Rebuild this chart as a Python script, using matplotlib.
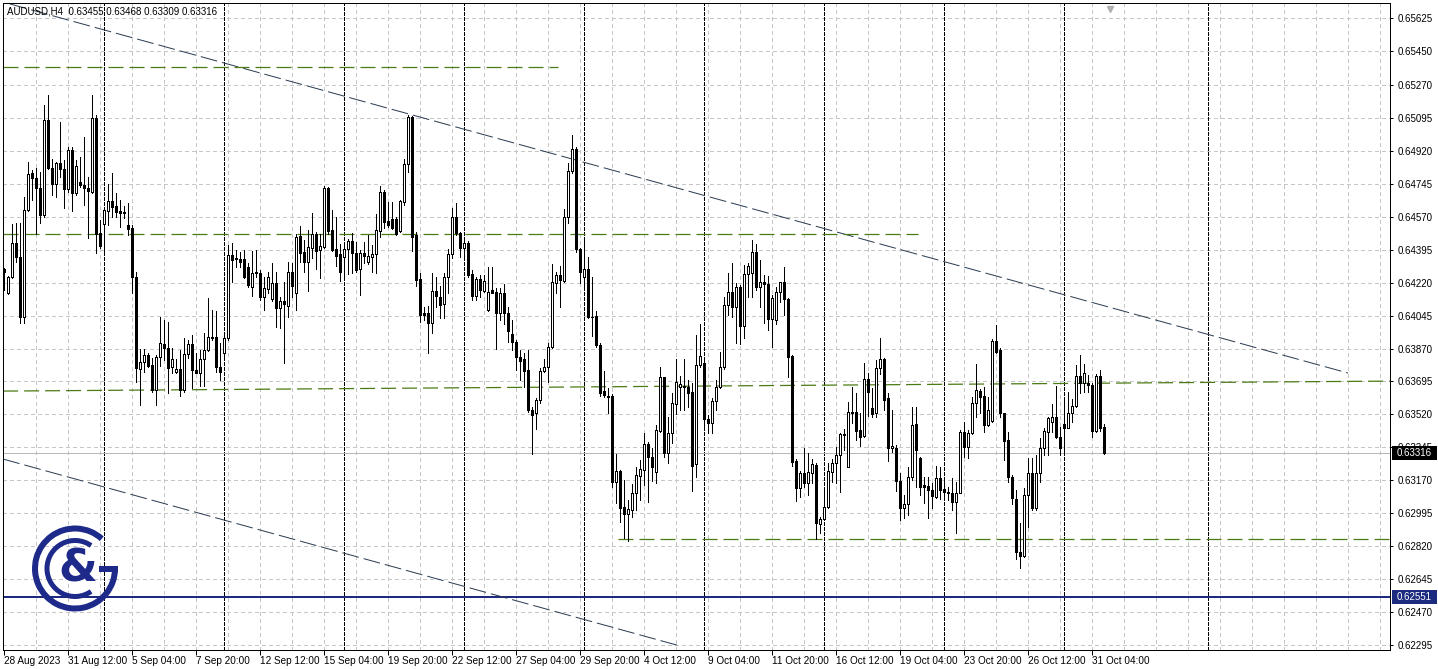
import numpy as np
import matplotlib
matplotlib.use("Agg")
import matplotlib.pyplot as plt
import matplotlib.transforms as mtransforms
from matplotlib.patches import Arc, Rectangle

plt.rcParams['lines.scale_dashes'] = False
plt.rcParams['font.family'] = ['Liberation Sans', 'DejaVu Sans']

title_text = "AUDUSD,H4  0.63455 0.63468 0.63309 0.63316"

# ---- H4 candles, prices in points (1e-5) ----
open_pts = [
64291,64163,64252,64429,64354,64036,64606,64800,64774,64721,
64579,65084,64827,64742,64853,64822,64715,64924,64698,64754,
64740,64721,64703,65092,64482,64530,64602,64655,64627,64600,
64597,64526,64508,64248,63761,63800,63836,63783,63650,63827,
63892,63871,63770,63747,63760,63650,63841,63892,63756,63742,
63813,63862,63933,63930,63774,63848,63924,64367,64349,64346,
64346,64301,64199,64276,64269,64145,64184,64131,64216,64087,
64122,64098,64275,64163,64468,64384,64331,64402,64478,64393,
64411,64721,64499,64397,64372,64354,64397,64439,64376,64291,
64376,64330,64358,64372,64496,64700,64547,64556,64556,64496,
64650,64848,65101,64473,64238,64057,64057,64007,64177,64145,
64105,64248,64372,64567,64482,64402,64429,64266,64149,64238,
64177,64075,64181,64169,64061,64163,64057,63947,63907,63823,
63813,63756,63544,63526,63597,63753,63770,63880,64220,64261,
64230,64567,64813,64928,64397,64248,64291,64039,64043,63889,
63646,63618,63618,63163,63222,63027,62990,63013,63101,63193,
63225,63363,63296,63213,63434,63717,63317,63420,63576,63668,
63673,63668,63641,63255,63783,63795,63494,63476,63591,63668,
63770,64101,64172,64089,64195,63990,64266,64273,64381,64195,
64222,64213,64027,64022,64172,64222,64131,63830,63275,63131,
63207,63154,63207,63252,62938,62963,63030,63216,63260,63305,
63414,63243,63531,63531,63437,63406,63707,63553,63526,63765,
63813,63606,63340,63340,63168,63022,63043,63190,63469,63287,
63145,63142,63119,63083,63181,63122,63110,63105,63057,63105,
63429,63349,63420,63579,63646,63618,63464,63487,63912,63862,
63526,63384,63190,63069,62791,62768,63092,63211,63022,63207,
63340,63429,63482,63505,63402,63469,63446,63526,63565,63724,
63685,63685,63676,63434,63724,63455]

high_pts = [
64299,64255,64531,64535,64538,64676,64862,64818,64827,64809,
65163,65216,64875,64862,65075,64871,64942,64942,64871,64889,
64995,64779,65216,65110,64553,64623,64744,64800,64694,64659,
64627,64641,64526,64278,63866,63866,63845,63818,63836,64039,
64022,64013,63871,63813,63862,63924,63915,63942,63845,63862,
63951,64137,64075,64071,63898,63960,64420,64429,64393,64384,
64393,64326,64390,64393,64287,64252,64278,64322,64278,64145,
64225,64331,64322,64478,64523,64446,64499,64588,64491,64478,
64733,64726,64606,64570,64425,64429,64450,64482,64434,64393,
64438,64473,64420,64584,64733,64712,64650,64650,64567,64659,
64875,65110,65105,64491,64269,64092,64096,64273,64248,64202,
64273,64397,64615,64641,64491,64455,64443,64287,64252,64261,
64261,64305,64305,64190,64190,64213,64092,64022,63915,63862,
63848,63862,63561,63606,63765,63813,63901,64319,64278,64308,
64609,64857,65004,64942,64402,64464,64358,64252,64071,63898,
63753,63659,63629,63310,63225,63172,63066,63151,63243,63278,
63420,63376,63340,63464,63774,63721,63508,63636,63813,63724,
63813,63703,63685,63942,64000,63813,63517,63606,63703,63853,
64142,64273,64322,64216,64207,64314,64326,64446,64425,64340,
64261,64255,64154,64199,64225,64305,64137,63836,63282,63222,
63340,63314,63282,63260,62977,63122,63264,63282,63349,63420,
63441,63588,63668,63632,63526,63791,63742,63659,63809,63924,
63818,63632,63544,63358,63207,63092,63243,63561,63561,63292,
63190,63190,63154,63246,63243,63181,63137,63181,63163,63437,
63482,63437,63611,63788,63653,63664,63614,63919,63995,63871,
63530,63429,63199,63119,62942,63128,63287,63287,63305,63393,
63446,63508,63576,63671,63455,63597,63641,63600,63783,63836,
63788,63730,63685,63735,63756,63468]

low_pts = [
64181,64160,64246,64331,64004,64004,64602,64659,64478,64535,
64570,64822,64685,64673,64783,64615,64703,64602,64685,64726,
64632,64455,64694,64376,64402,64376,64526,64567,64570,64517,
64561,64473,64163,63694,63570,63747,63774,63641,63570,63779,
63809,63632,63738,63738,63618,63641,63818,63659,63738,63671,
63671,63859,63915,63747,63703,63827,63915,64225,64305,64305,
64243,64199,64149,64252,64128,64075,64163,64124,63986,63977,
63795,64039,64145,64075,64331,64278,64177,64349,64292,64246,
64402,64478,64390,64308,64230,64257,64264,64269,64278,64154,
64322,64319,64275,64269,64464,64508,64517,64503,64473,64491,
64632,64809,64390,64202,64013,64022,63845,63951,64092,64030,
64030,64163,64353,64473,64358,64349,64248,64128,64128,64145,
64172,64071,64163,63866,64022,64000,63907,63862,63756,63703,
63668,63535,63310,63441,63583,63747,63694,63871,64163,64092,
64225,64535,64800,64384,64216,64190,64030,63937,63880,63618,
63611,63530,63137,63048,62951,62862,62850,62977,63013,63066,
63145,63057,63168,63154,63429,63296,63264,63367,63522,63544,
63544,63561,63115,63190,63774,63446,63420,63420,63544,63659,
63760,64048,64039,63901,63894,63924,64145,64145,64181,64089,
64004,63968,63876,64000,64119,64048,63721,63246,63062,63083,
63137,63092,63154,62857,62889,62960,63022,63163,63154,63110,
63331,63239,63473,63384,63353,63399,63512,63508,63505,63735,
63544,63275,63322,63115,62960,62968,62986,63172,63137,63092,
63048,62968,63022,63075,63069,63083,63066,63013,62889,63101,
63296,63287,63416,63508,63526,63429,63459,63482,63848,63505,
63278,63163,63045,62751,62703,62765,62921,63013,63013,63163,
63305,63305,63429,63393,63305,63305,63446,63482,63561,63632,
63641,63641,63402,63429,63434,63309]

close_pts = [
64276,64248,64429,64358,64036,64606,64795,64774,64721,64579,
65084,64827,64742,64853,64822,64715,64924,64698,64839,64740,
64721,64707,65092,64476,64415,64606,64653,64623,64597,64588,
64592,64503,64248,63765,63800,63836,63779,63650,63827,63898,
63871,63765,63813,63760,63650,63841,63892,63756,63742,63813,
63862,63933,63928,63770,63747,63924,64367,64340,64346,64331,
64252,64207,64269,64269,64145,64190,64252,64216,64087,64124,
64107,64275,64204,64464,64379,64331,64407,64478,64390,64415,
64721,64496,64393,64363,64278,64397,64439,64376,64287,64376,
64363,64361,64372,64499,64700,64544,64526,64508,64478,64653,
64848,65101,64464,64234,64048,64048,64007,64177,64149,64101,
64252,64372,64567,64482,64402,64429,64261,64149,64238,64181,
64230,64172,64167,64061,64163,64057,63965,63907,63823,63806,
63753,63544,63517,63597,63753,63770,63880,64222,64261,64234,
64567,64813,64928,64397,64275,64291,64039,64036,63889,63632,
63623,63614,63163,63222,63022,62990,63016,63101,63199,63229,
63363,63296,63239,63437,63717,63314,63420,63579,63694,63682,
63668,63636,63246,63783,63830,63494,63476,63591,63668,63770,
64101,64172,64089,64195,63990,64266,64308,64381,64195,64222,
64213,64027,64137,64172,64222,64131,63827,63269,63131,63207,
63154,63213,63257,62942,62963,63030,63220,63260,63305,63414,
63411,63531,63526,63434,63402,63707,63641,63522,63765,63813,
63597,63340,63354,63168,63022,63043,63190,63464,63331,63137,
63137,63119,63087,63181,63119,63110,63105,63057,63105,63429,
63349,63423,63579,63650,63614,63464,63544,63912,63853,63526,
63381,63190,63075,62791,62768,63092,63211,63022,63211,63340,
63432,63503,63505,63399,63340,63446,63526,63565,63724,63685,
63738,63676,63434,63724,63446,63316]

date_label_bars = [0, 16, 32, 48, 64, 80, 96, 112, 128, 144, 160, 176, 192, 208, 224, 240, 256, 272]
date_labels = ["28 Aug 2023", "31 Aug 12:00", "5 Sep 04:00", "7 Sep 20:00", "12 Sep 12:00",
               "15 Sep 04:00", "19 Sep 20:00", "22 Sep 12:00", "27 Sep 04:00", "29 Sep 20:00",
               "4 Oct 12:00", "9 Oct 04:00", "11 Oct 20:00", "16 Oct 12:00", "19 Oct 04:00",
               "23 Oct 20:00", "26 Oct 12:00", "31 Oct 04:00"]
price_ticks = [0.65625, 0.65450, 0.65270, 0.65095, 0.64920, 0.64745, 0.64570, 0.64395,
               0.64220, 0.64045, 0.63870, 0.63695, 0.63520, 0.63345, 0.63170, 0.62995,
               0.62820, 0.62645, 0.62470, 0.62295]
week_separator_bars = [25, 55, 85, 115, 145, 175, 205, 235, 265, 301]
grid_bar_step = 8

# objects drawn on the chart: (bar1, price1, bar2, price2)
trend_upper = (1.4, 0.65700, 335.9, 0.63740)
trend_lower = (-0.3, 0.63283, 169.0, 0.62290)
green_levels = [(-0.3, 0.65367, 138.4, 0.65367),
                (-0.3, 0.64477, 228.4, 0.64477),
                (-0.3, 0.63644, 346.4, 0.63697),
                (153.4, 0.62858, 346.4, 0.62858)]
support_price = 0.62551
bid_price = 0.63316

o = np.array(open_pts) / 1e5
h = np.array(high_pts) / 1e5
l = np.array(low_pts) / 1e5
c = np.array(close_pts) / 1e5
n = len(c)
x = np.arange(n)

W, H = 1438, 669
PX = 0.72  # points per pixel at dpi 100
fig = plt.figure(figsize=(W / 100, H / 100), dpi=100)
fig.patch.set_facecolor('white')
ax = fig.add_axes([3 / W, 19 / H, 1387 / W, 647 / H])
ax.set_facecolor('white')

xmin, xmax = -0.325, 346.425
ymin, ymax = 0.62269, 0.65705

# grid
for p in price_ticks:
    ax.axhline(p, color='#c6c6c6', lw=PX, dashes=(3 * PX, 3 * PX), antialiased=False, zorder=1)
for gb in np.arange(grid_bar_step, xmax, grid_bar_step):
    ax.axvline(gb, color='#c6c6c6', lw=PX, dashes=(3 * PX, 3 * PX), antialiased=False, zorder=1)
# week separators
for sb in week_separator_bars:
    ax.axvline(sb, color='black', lw=PX, dashes=(3 * PX, 2 * PX), antialiased=False, zorder=1.5)

# horizontal lines
ax.axhline(bid_price, color='#b8b8b8', lw=PX, antialiased=False, zorder=1.6)
ax.axhline(support_price, color='#1c2a80', lw=2 * PX, antialiased=False, zorder=1.7)

# trend lines
tl_col = '#2c3e52'
for (x1, y1, x2, y2) in (trend_upper, trend_lower):
    ax.plot([x1, x2], [y1, y2], color=tl_col, lw=PX, dashes=(17 * PX, 5 * PX), zorder=2)
green_col = '#4c7a14'
for (x1, y1, x2, y2) in green_levels:
    ax.plot([x1, x2], [y1, y2], color=green_col, lw=PX * 1.25,
            dashes=(15 * PX, 6 * PX), zorder=2)

# candles
ax.vlines(x, l, h, color='black', lw=PX, antialiased=False, zorder=3)
up = c >= o
bottoms = np.minimum(o, c)
heights = np.maximum(np.abs(c - o), 0.000005)
ax.bar(x[up], heights[up], bottom=bottoms[up], width=0.5, facecolor='white',
       edgecolor='black', lw=PX, antialiased=False, zorder=4)
ax.bar(x[~up], heights[~up], bottom=bottoms[~up], width=0.5, facecolor='black',
       edgecolor='black', lw=PX, antialiased=False, zorder=4)

ax.set_xlim(xmin, xmax)
ax.set_ylim(ymin, ymax)

# axes styling
for s in ax.spines.values():
    s.set_color('black')
    s.set_linewidth(PX)
ax.yaxis.tick_right()
ax.set_yticks(price_ticks)
ax.set_yticklabels([f"{v:.5f}" for v in price_ticks])
ax.tick_params(axis='y', direction='out', length=3 * PX, width=PX, pad=3, labelsize=7, colors='black')
ax.set_xticks(date_label_bars)
ax.set_xticklabels(date_labels)
ax.tick_params(axis='x', direction='out', length=5 * PX, width=PX, pad=1, labelsize=7.2, colors='black')
for lbl in ax.get_xticklabels():
    lbl.set_ha('left')

# title
ax.text(4 / 1387, 1 - 9 / 647, title_text, transform=ax.transAxes, fontsize=7.0,
        ha='left', va='center', color='black', zorder=6)

# chart shift marker
ax.plot([276.4], [0.99], marker='v', ms=5, color='#b0b0b0', mec='#b0b0b0',
        transform=mtransforms.blended_transform_factory(ax.transData, ax.transAxes),
        clip_on=False, zorder=6)

# price boxes on the axis
blend = mtransforms.blended_transform_factory(fig.transFigure, ax.transData)
pp = (ymax - ymin) / 647.0
for price, fc in ((bid_price, 'black'), (support_price, '#1c2a80')):
    r = Rectangle((1392 / W, price - 7 * pp), 45 / W, 14 * pp, transform=blend,
                  facecolor=fc, edgecolor='none', clip_on=False, zorder=10)
    ax.add_artist(r)
    ax.text(1414.5 / W, price, f"{price:.5f}", transform=blend, color='white', fontsize=7,
            ha='center', va='center', clip_on=False, zorder=11)

# logo
navy = '#1e2a8a'
lax = fig.add_axes([25 / W, (669 - 618) / H, 100 / W, 100 / H])
lax.set_xlim(0, 100)
lax.set_ylim(0, 100)
lax.axis('off')
cx, cy = 50, 49.5
lax.add_patch(Arc((cx, cy), 80, 80, theta1=48, theta2=360, lw=6 * PX, color=navy, capstyle='butt'))
lax.add_patch(Rectangle((74, cy - 3), 19, 6, color=navy, lw=0))
lax.add_patch(Arc((cx, cy), 56, 56, theta1=55, theta2=305, lw=5 * PX, color=navy, capstyle='butt'))
lax.text(cx + 3, cy - 1, '&', fontsize=32, fontweight='bold', color=navy, ha='center', va='center',
         family='DejaVu Sans')

fig.savefig('out.png', dpi=100, facecolor='white')
